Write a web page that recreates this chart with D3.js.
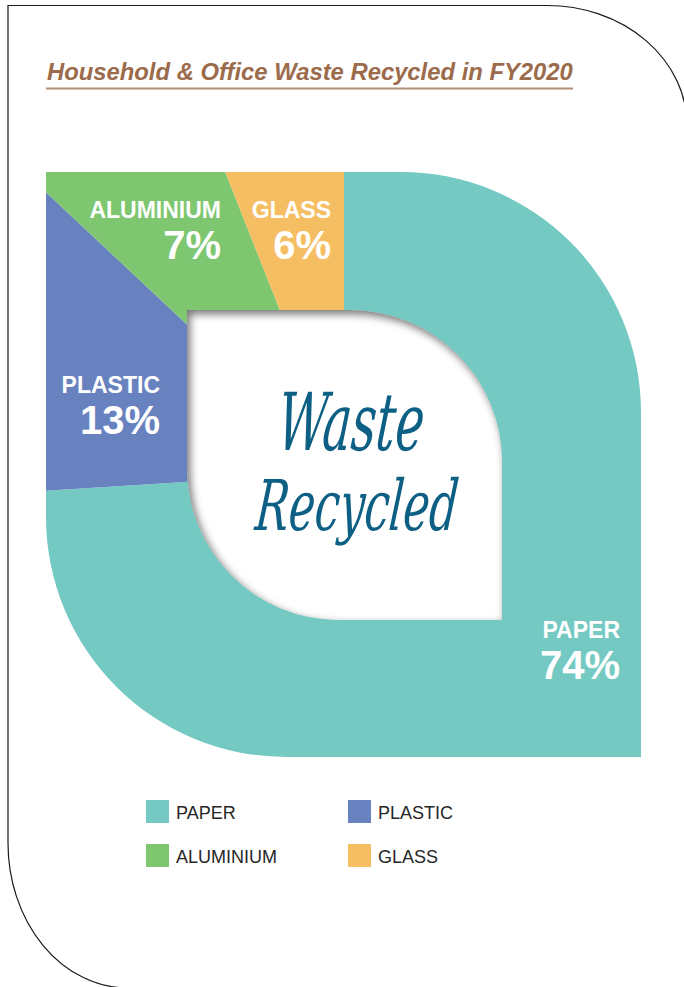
<!DOCTYPE html>
<html>
<head>
<meta charset="utf-8">
<script src="https://cdn.jsdelivr.net/npm/d3@7"></script>
<style>
  html, body { margin: 0; padding: 0; background: #fff; }
  svg { display: block; }
</style>
</head>
<body>
<svg id="chart" width="684" height="987"></svg>
<script>
// Household & office waste recycled, FY2020 (share of total, %)
const categories = ["PAPER", "PLASTIC", "ALUMINIUM", "GLASS"];
const values = [74, 13, 7, 6];
const colors = ["#74cac3", "#6882bf", "#7ec66f", "#f6be63"];
const title = "Household & Office Waste Recycled in FY2020";
const centreWords = ["Waste", "Recycled"];

// label anchors (right-aligned name + percentage under it)
const labelAnchors = {
  PAPER:     [620, 638],
  PLASTIC:   [160, 393],
  ALUMINIUM: [221, 218],
  GLASS:     [331, 218]
};

const W = 684, H = 987;
const svg = d3.select("#chart");
const defs = svg.append("defs");

// card outline with two rounded corners
svg.append("path")
  .attr("d", "M8,843 L8,5.5 L547,5.5 A140,120 0 0 1 687,125.5 L687,1000 M8,843 A120,145 0 0 0 128,988")
  .attr("fill", "none")
  .attr("stroke", "#1a1a1a")
  .attr("stroke-width", 1.2);

// title + rule
const titleText = svg.append("text")
  .attr("x", 47).attr("y", 80)
  .attr("fill", "#9b6b4b")
  .attr("font-family", "'Liberation Sans', Arial, sans-serif")
  .attr("font-weight", "bold")
  .attr("font-style", "italic")
  .attr("font-size", 22)
  .text(title);
const tw = titleText.node().getComputedTextLength();
titleText.attr("font-size", 22 * 526 / tw);

svg.append("line")
  .attr("x1", 46).attr("x2", 573)
  .attr("y1", 88.5).attr("y2", 88.5)
  .attr("stroke", "#b58f73")
  .attr("stroke-width", 2);

// leaf shapes: square top-left / bottom-right, round top-right / bottom-left
function leaf(x0, y0, x1, y1, r) {
  const p = d3.path();
  p.moveTo(x0, y0);
  p.lineTo(x1 - r, y0);
  p.arcTo(x1, y0, x1, y0 + r, r);
  p.lineTo(x1, y1);
  p.lineTo(x0 + r, y1);
  p.arcTo(x0, y1, x0, y1 - r, r);
  p.closePath();
  return p.toString();
}
const outerLeaf = leaf(46, 172, 641, 757, 240);
const innerLeaf = leaf(187, 310, 502, 620, 152);

defs.append("clipPath").attr("id", "ring")
  .append("path")
  .attr("d", outerLeaf + innerLeaf)
  .attr("clip-rule", "evenodd");

defs.append("clipPath").attr("id", "hole")
  .append("path")
  .attr("d", innerLeaf);

defs.append("filter").attr("id", "soft")
  .attr("x", "-20%").attr("y", "-20%").attr("width", "140%").attr("height", "140%")
  .append("feGaussianBlur").attr("stdDeviation", 4);

// pie slices, clockwise from 12 o'clock
const cx = 344, cy = 472;
const pie = d3.pie().sort(null).value(d => d.value);
const data = categories.map((c, i) => ({ name: c, value: values[i], color: colors[i] }));
const arcs = pie(data);
const arc = d3.arc().innerRadius(0).outerRadius(700);

svg.append("g")
  .attr("clip-path", "url(#ring)")
  .append("g")
  .attr("transform", `translate(${cx},${cy})`)
  .selectAll("path")
  .data(arcs)
  .join("path")
  .attr("d", arc)
  .attr("fill", d => d.data.color);

// centre hole with inner shadow
const hole = svg.append("g").attr("clip-path", "url(#hole)");
hole.append("path").attr("d", innerLeaf).attr("fill", "#fff");
hole.append("path")
  .attr("d", `M0,0 H${W} V${H} H0 Z` + innerLeaf)
  .attr("transform", "translate(3,4)")
  .attr("fill-rule", "evenodd")
  .attr("fill", "#000")
  .attr("opacity", 0.55)
  .attr("filter", "url(#soft)");

// centre wording
const cw = svg.append("g")
  .attr("fill", "#0e5f84")
  .attr("font-family", "'DejaVu Serif', 'Liberation Serif', serif")
  .attr("font-style", "italic")
  .attr("text-anchor", "middle");
[[centreWords[0], 450, 80, 0.6, 349], [centreWords[1], 530, 70, 0.63, 355]].forEach(([t, y, fs, sx, x]) => {
  cw.append("text")
    .attr("transform", `translate(${x},${y}) scale(${sx},1) skewX(-8)`)
    .attr("font-size", fs)
    .text(t);
});

// slice labels
const labels = svg.append("g")
  .attr("fill", "#fff")
  .attr("font-family", "'Liberation Sans', Arial, sans-serif")
  .attr("font-weight", "bold")
  .attr("text-anchor", "end");
data.forEach(d => {
  const [x, y] = labelAnchors[d.name];
  labels.append("text").attr("x", x).attr("y", y)
    .attr("font-size", 23).text(d.name);
  labels.append("text").attr("x", x).attr("y", y + 41)
    .attr("font-size", 40).text(d.value + "%");
});

// legend, two columns
const legend = svg.append("g")
  .attr("font-family", "'Liberation Sans', Arial, sans-serif");
const colX = [146, 348], rowY = [800, 844];
data.forEach((d, i) => {
  const x = colX[i % 2], y = rowY[Math.floor(i / 2)];
  legend.append("rect")
    .attr("x", x).attr("y", y).attr("width", 23).attr("height", 23)
    .attr("fill", d.color);
  legend.append("text")
    .attr("x", x + 30).attr("y", y + 19)
    .attr("font-size", 18)
    .attr("fill", "#262626")
    .text(d.name);
});
</script>
</body>
</html>
